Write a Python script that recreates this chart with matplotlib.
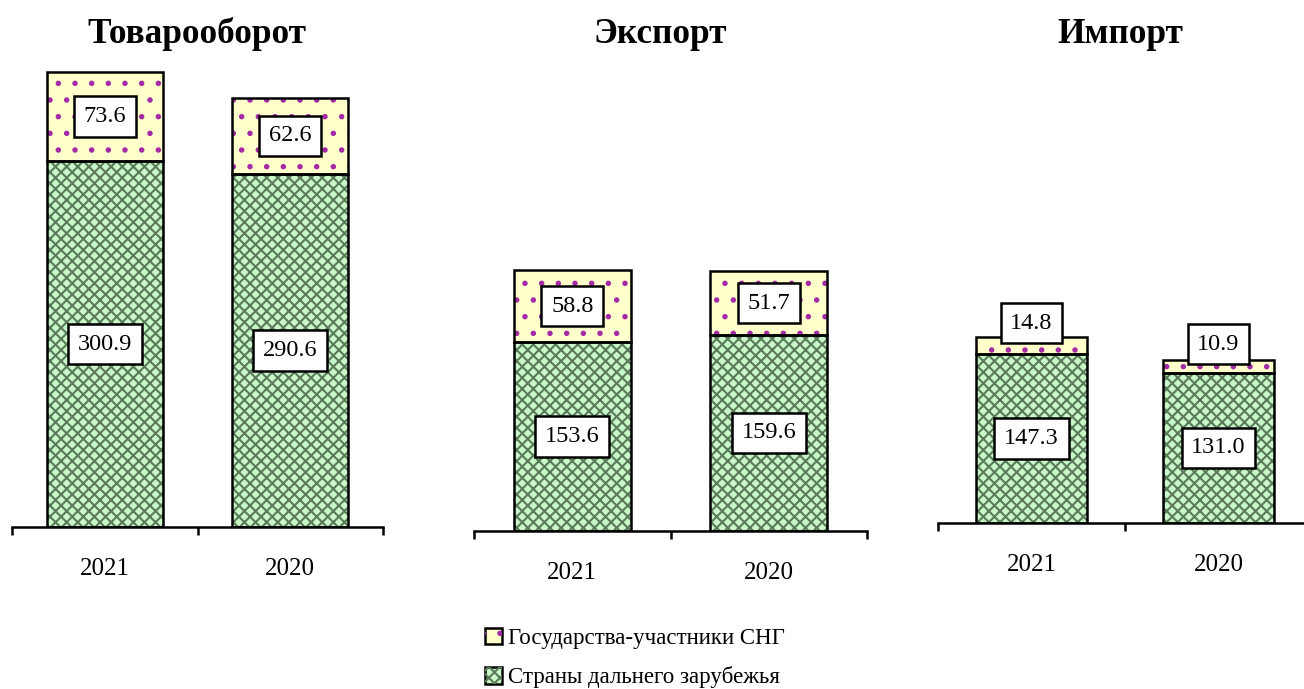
import matplotlib
matplotlib.use('Agg')
from matplotlib import pyplot as plt
from matplotlib.patches import Patch

plt.rcParams['font.family'] = ['Liberation Serif', 'DejaVu Serif']
plt.rcParams['hatch.linewidth'] = 1.5

years = ["2021", "2020"]
titles = ["Товарооборот", "Экспорт", "Импорт"]
far_abroad = [[300.9, 290.6], [153.6, 159.6], [147.3, 131.0]]
cis = [[73.6, 62.6], [58.8, 51.7], [14.8, 10.9]]
legend_labels = ["Государства-участники СНГ", "Страны дальнего зарубежья"]

GREEN = "#C8F7C8"
GREEN_HATCH = "#5b7a5b"
GREEN_PAT = 'xxx'
YELLOW = "#FFFFCC"
YELLOW_HATCH = "#a52aa5"
YELLOW_PAT = '.'

W, H = 1304, 689
fig = plt.figure(figsize=(W / 100, H / 100), dpi=100)

# left px, right px, baseline px, px per unit, bar width, title x px
panels = [
    (12, 383, 527, 1.215, 0.625, 197),
    (474, 867, 531, 1.229, 0.595, 660),
    (938, 1312, 523, 1.148, 0.59, 1120),
]
YMAX = 400


def draw_segment(ax, x, vals, bottom, color, hcolor, hatch, width):
    ax.bar(x, vals, width, bottom=bottom, color=color, edgecolor='none', zorder=1)
    ax.bar(x, vals, width, bottom=bottom, color='none', edgecolor=hcolor,
           hatch=hatch, linewidth=0, zorder=2)
    ax.bar(x, vals, width, bottom=bottom, color='none', edgecolor='black',
           linewidth=1.8, zorder=3)


def put_labels(ax, x, vals, bottom, scale):
    for xi, v, b in zip(x, vals, bottom):
        # small segments get their label lifted above the bar
        off = 16 if v * scale < 30 else 0
        ax.annotate(f"{v:.1f}", xy=(xi, b + v / 2), xytext=(0, off),
                    textcoords='offset points', ha='center', va='center',
                    fontsize=17.5, zorder=5,
                    bbox=dict(boxstyle='square,pad=0.4', fc='white',
                              ec='black', lw=1.8))


for i, (left, right, base, scale, bw, tx) in enumerate(panels):
    ax = fig.add_axes([left / W, (H - base) / H, (right - left) / W,
                       YMAX * scale / H])
    ax.set_xlim(-0.5, 1.5)
    ax.set_ylim(0, YMAX)
    x = [0, 1]
    zeros = [0, 0]
    draw_segment(ax, x, far_abroad[i], zeros, GREEN, GREEN_HATCH, GREEN_PAT, bw)
    draw_segment(ax, x, cis[i], far_abroad[i], YELLOW, YELLOW_HATCH, YELLOW_PAT, bw)
    put_labels(ax, x, far_abroad[i], zeros, scale)
    put_labels(ax, x, cis[i], far_abroad[i], scale)

    for s in ['left', 'top', 'right']:
        ax.spines[s].set_visible(False)
    ax.spines['bottom'].set_linewidth(1.8)
    ax.yaxis.set_visible(False)
    ax.set_xticks(x)
    ax.set_xticklabels(years, fontsize=18)
    ax.set_xticks([-0.5, 0.5, 1.5], minor=True)
    ax.tick_params(axis='x', which='major', length=0, pad=22)
    ax.tick_params(axis='x', which='minor', length=6, width=1.8, direction='out')
    ax.patch.set_alpha(0)

    fig.text(tx / W, 1 - 43 / H, titles[i], ha='center', va='baseline',
             fontsize=25.4, fontweight='bold')

handles = [
    (Patch(facecolor=YELLOW, edgecolor='black', linewidth=1.8),
     Patch(facecolor='none', edgecolor=YELLOW_HATCH, hatch=YELLOW_PAT, linewidth=0)),
    (Patch(facecolor=GREEN, edgecolor='black', linewidth=1.8),
     Patch(facecolor='none', edgecolor=GREEN_HATCH, hatch=GREEN_PAT, linewidth=0)),
]
fig.legend(handles, legend_labels, loc='upper left',
           bbox_to_anchor=(485 / W, 1 - 628 / H), frameon=False,
           handlelength=0.72, handleheight=0.72, handletextpad=0.3,
           labelspacing=0.75, fontsize=16.5, borderpad=0, borderaxespad=0)

fig.savefig("out.png", dpi=100)
